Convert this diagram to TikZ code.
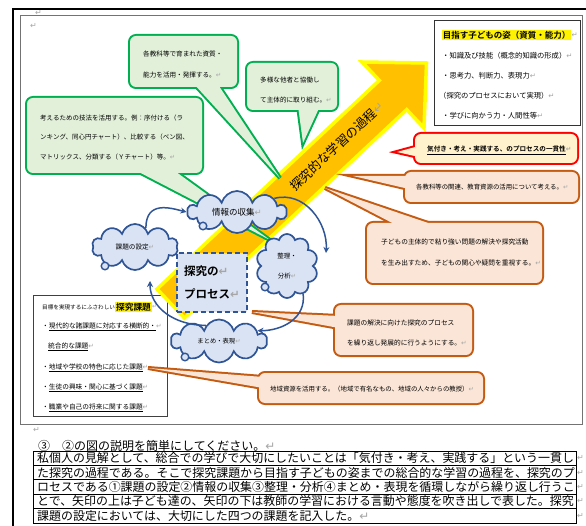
\documentclass[tikz,border=0pt]{standalone}
\usepackage{fontspec}
\setmainfont{Noto Sans CJK JP}[BoldFont={Noto Sans CJK JP Bold}]
\newfontfamily\dejavu{DejaVu Sans}
\usetikzlibrary{shapes.symbols,arrows.meta,calc}
\definecolor{greenB}{RGB}{0,176,80}
\definecolor{greenF}{RGB}{226,240,217}
\definecolor{orangeB}{RGB}{197,90,17}
\definecolor{orangeF}{RGB}{251,229,214}
\definecolor{redB}{RGB}{255,0,0}
\definecolor{redF}{RGB}{255,242,204}
\definecolor{cloudB}{RGB}{47,85,151}
\definecolor{cloudF}{RGB}{218,227,243}
\definecolor{arrowF}{RGB}{255,192,0}
\definecolor{arrowB}{RGB}{255,255,0}
\newcommand\ret{{\dejavu\color{black!35}↵}}
\newcommand\fs[2]{\fontsize{#1}{#2}\selectfont}
% border colour, fill colour, rect corner 1, rect corner 2, tail base 1, tail tip, tail base 2
\newcommand\mycallout[7]{%
  \draw[draw=#1,line width=4pt,rounded corners=6pt] #3 rectangle #4;
  \draw[draw=#1,line width=4pt,line join=miter] #5 -- #6 -- #7 -- cycle;
  \fill[#2,rounded corners=6pt] #3 rectangle #4;
  \fill[#2] #5 -- #6 -- #7 -- cycle;}
\begin{document}
\begin{tikzpicture}[x=1pt,y=-1pt,
  txt/.style={anchor=west,inner sep=0pt,align=left},
  cloudnode/.style={cloud,cloud puffs=10,cloud ignores aspect,draw=cloudB,fill=cloudF,line width=1.7pt,inner sep=0pt,align=center},
  cyc/.style={draw=cloudB,line width=1.5pt,-{Stealth[length=6pt,width=6pt]}},
  bubble/.style={draw=cloudB,fill=cloudF,line width=1.4pt},
  procbox/.style={draw=cloudB,fill=cloudF,line width=2pt,dash pattern=on 5pt off 3pt,minimum width=70pt,minimum height=59pt,inner sep=0pt,align=left},
  hl/.style={fill=yellow,inner sep=0.7pt,anchor=west},
  rowbox/.style={draw=black,line width=0.8pt},
]
\useasboundingbox (0,0) rectangle (586,526);
\fill[white] (0,0) rectangle (586,526);
% page frames
\draw[line width=2pt] (12.5,530) -- (12.5,9.5) -- (590,9.5);
\draw[black!55,line width=1pt] (20.5,15.5) rectangle (582,424);
\node[txt,font=\fs{8}{9}] (r0) at (35,13) {\ret};
\node[txt,font=\fs{8}{9}] (r00) at (30,26) {\ret};

% bottom-left box
\draw[black!75,line width=0.8pt] (33,295) rectangle (167,416);
% head box
\draw[black!80,line width=1pt] (434,21) rectangle (580,126);

% big arrow
\draw[draw=arrowB,fill=arrowF,line width=3.5pt,line join=miter]
  (157,289) -- (379.3,80.4) -- (362,62) -- (426.5,63) -- (424,128) -- (406.7,109.6) -- (184.4,318) -- cycle;

% green callouts
\mycallout{greenB}{greenF}{(130,36)}{(237,87)}{(193,83)}{(280,178)}{(217,83)}
\mycallout{greenB}{greenF}{(247,63)}{(337,110)}{(298,106)}{(303,143)}{(320,106)}
\mycallout{greenB}{greenF}{(27,98)}{(202,173)}{(133,169)}{(270,240)}{(172,169)}
% red callout
\mycallout{redB}{redF}{(415,134)}{(577,163)}{(419,146)}{(397,152)}{(419,157)}
% orange callouts
\mycallout{orangeB}{orangeF}{(405,172)}{(578,202)}{(409,176)}{(353,176)}{(409,189)}
\mycallout{orangeB}{orangeF}{(367,223)}{(542,283)}{(400,227)}{(325,188)}{(440,227)}
\mycallout{orangeB}{orangeF}{(335,305)}{(472,355)}{(339,316)}{(252,312)}{(339,328)}
\mycallout{orangeB}{orangeF}{(259,373)}{(483,403)}{(263,377)}{(148,368)}{(263,388)}

% arrow label
\node[rotate=43.3,inner sep=0pt,font=\fs{12.5}{14}] (atext) at (337,146) {探究的な学習の過程\ret};

% callout texts
\node[txt,font=\fs{6.6}{21}] (g1) at (143,64.5) {各教科等で育まれた資質・\\能力を活用・発揮する。\ret};
\node[txt,font=\fs{6.6}{20}] (g2) at (260,90) {多様な他者と協働し\\て主体的に取り組む。\ret};
\node[txt,font=\fs{6.5}{19.5}] (g3) at (40,137.5) {考えるための技法を活用する。例：序付ける（ラ\\ンキング、同心円チャート）、比較する（ベン図、\\マトリックス、分類する（Ｙチャート）等。\ret};
\node[txt,font=\bfseries\fs{6.6}{8}] (rt) at (427,150.5) {\underline{気付き・考え・実践する、のプロセスの一貫性}\ret};
\node[txt,font=\fs{6.4}{8}] (oa) at (416,187) {各教科等の関連、教育資源の活用について考える。\ret};
\node[txt,font=\fs{6.7}{21}] (ob) at (381,252.5) {子どもの主体的で粘り強い問題の解決や探究活動\\を生み出すため、子どもの関心や疑問を重視する。\ret};
\node[txt,font=\fs{6.7}{20}] (oc) at (347,333) {課題の解決に向けた探究のプロセス\\を繰り返し発展的に行うようにする。\ret};
\node[txt,font=\fs{6.4}{8}] (od) at (270,389) {地域資源を活用する。（地域で有名なもの、地域の人々からの教授）\ret};

% head box text
\node[hl,font=\bfseries\fs{8.5}{10}] (goal) at (442,35) {目指す子どもの姿（資質・能力）};
\node[txt,font=\fs{7.3}{9}] (goalr) at (goal.east) {\ret};
\node[txt,font=\fs{7.3}{9}] (h1) at (442,56) {・知識及び技能（概念的知識の形成）\ret};
\node[txt,font=\fs{7.3}{9}] (h2) at (442,76) {・思考力、判断力、表現力\ret};
\node[txt,font=\fs{7.3}{9}] (h3) at (439,96) {（探究のプロセスにおいて実現）\ret};
\node[txt,font=\fs{7.3}{9}] (h4) at (442,116) {・学びに向かう力・人間性等\ret};

% bottom-left box text
\node[txt,font=\fs{5.6}{7}] (bt0) at (42,307) {目標を実現するにふさわしい};
\node[hl,font=\bfseries\fs{8.7}{10}] (bt0b) at (bt0.east) {探究課題};
\node[txt,font=\fs{6}{7}] (bt0r) at (bt0b.east) {\ret};
\node[txt,font=\fs{6.7}{8}] (bt1) at (42,327) {・\underline{現代的な諸課題に対応する横断的・}\ret};
\node[txt,font=\fs{6.7}{8}] (bt2) at (48,347) {\underline{統合的な課題}\ret};
\node[txt,font=\fs{6.7}{8}] (bt3) at (42,368) {・\underline{地域や学校の特色に応じた課題}\ret};
\node[txt,font=\fs{6.7}{8}] (bt4) at (42,388) {・\underline{生徒の興味・関心に基づく課題}\ret};
\node[txt,font=\fs{6.7}{8}] (bt5) at (42,408) {・\underline{職業や自己の将来に関する課題}\ret};

% clouds
\node[cloudnode,minimum width=99pt,minimum height=42pt,font=\fs{8.5}{10}] (joho) at (237,212) {情報の収集\ret};
\node[cloudnode,minimum width=86pt,minimum height=46pt,font=\fs{6.6}{8}] (kadai) at (135,247) {課題の設定\ret};
\node[cloudnode,minimum width=62pt,minimum height=64pt,font=\fs{6.5}{20}] (seiri) at (287,266) {整理・\\分析\ret};
\node[cloudnode,minimum width=96pt,minimum height=43pt,font=\fs{6.3}{8}] (matome) at (219,341) {まとめ・表現\ret};
\draw[bubble] (203,226) circle (3.8);
\draw[bubble] (105,266) circle (3.8);
\draw[bubble] (265,287) circle (3.8);
\draw[bubble] (185,357) circle (3.8);

% process box
\node[procbox,font=\bfseries\fs{11.5}{23}] (proc) at (212,282.5) {探究の\ret\\プロセス\ret};

% cycle arrows
\coordinate (c2end) at (326,253);
\coordinate (c4end) at (150,281);
\draw[cyc] (kadai.60) .. controls +(0,-28) and +(-16,-4) .. (joho.west);
\draw[cyc] (joho.20) .. controls +(30,-8) and +(2,-30) .. (c2end);
\draw[cyc] (seiri.-60) .. controls +(3,24) and +(25,0) .. (matome.15);
\draw[cyc] (matome.130) .. controls +(-32,0) and +(0,26) .. (c4end);

% lower text
\node[txt,font=\fs{8}{9}] (r1) at (33,430) {\ret};
\node[txt,font=\fs{12}{14}] (q3) at (38,446) {③　②の図の説明を簡単にしてください。\ret};
\draw[rowbox] (33,451) rectangle (576,465.4);
\draw[rowbox] (33,465.4) rectangle (576,479.8);
\draw[rowbox] (33,479.8) rectangle (576,494.2);
\draw[rowbox] (33,494.2) rectangle (576,508.6);
\draw[rowbox] (33,508.6) rectangle (576,523);
\node[txt,font=\fs{11.95}{14}] (row1) at (37,458.2) {私個人の見解として、総合での学びで大切にしたいことは「気付き・考え、実践する」という一貫し};
\node[txt,font=\fs{11.95}{14}] (row2) at (37,472.6) {た探究の過程である。そこで探究課題から目指す子どもの姿までの総合的な学習の過程を、探究のプ};
\node[txt,font=\fs{11.95}{14}] (row3) at (37,487) {ロセスである①課題の設定②情報の収集③整理・分析④まとめ・表現を循環しながら繰り返し行うこ};
\node[txt,font=\fs{11.95}{14}] (row4) at (37,501.4) {とで、矢印の上は子ども達の、矢印の下は教師の学習における言動や態度を吹き出しで表した。探究};
\node[txt,font=\fs{11.95}{14}] (row5) at (37,515.8) {課題の設定においては、大切にした四つの課題を記入した。\ret};
\node[txt,font=\fs{8}{9}] (rr1) at (577,458.2) {\ret};
\node[txt,font=\fs{8}{9}] (rr2) at (577,472.6) {\ret};
\node[txt,font=\fs{8}{9}] (rr3) at (577,487) {\ret};
\node[txt,font=\fs{8}{9}] (rr4) at (577,501.4) {\ret};
\node[txt,font=\fs{8}{9}] (rr5) at (577,515.8) {\ret};
\end{tikzpicture}
\end{document}
